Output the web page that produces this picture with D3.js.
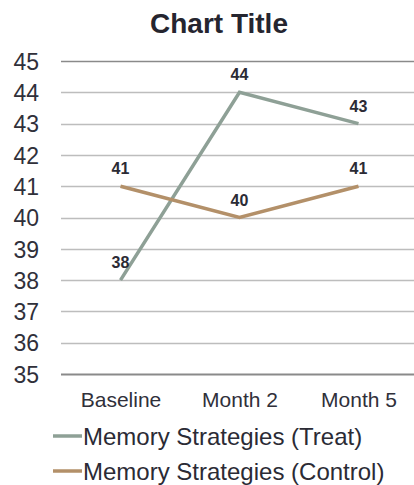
<!DOCTYPE html>
<html>
<head>
<meta charset="utf-8">
<script src="https://cdn.jsdelivr.net/npm/d3@7"></script>
<style>
  html, body { margin: 0; padding: 0; background: #fff; }
  svg { display: block; font-family: "Liberation Sans", Arial, sans-serif; }
</style>
</head>
<body>
<svg id="chart" width="414" height="485"></svg>
<script>
// Survey timepoints and mean scores per group
const categories = ["Baseline", "Month 2", "Month 5"];
const treatValues = [38, 44, 43];
const controlValues = [41, 40, 41];
const seriesNames = ["Memory Strategies (Treat)", "Memory Strategies (Control)"];
const yTicks = [35, 36, 37, 38, 39, 40, 41, 42, 43, 44, 45];

const series = [
  { name: seriesNames[0], values: treatValues, color: "#8ea096" },
  { name: seriesNames[1], values: controlValues, color: "#b39069" }
];

const svg = d3.select("#chart");
const plotLeft = 61, plotRight = 418, plotTop = 61, plotBottom = 374;

const x = d3.scalePoint().domain(categories).range([plotLeft, plotRight]).padding(0.5);
const y = d3.scaleLinear().domain([35, 45]).range([plotBottom, plotTop]);

// Title
svg.append("text")
  .attr("x", 219).attr("y", 33)
  .attr("text-anchor", "middle")
  .attr("font-size", 28).attr("font-weight", "bold")
  .attr("fill", "#25252f")
  .text("Chart Title");

// Horizontal gridlines
svg.append("g")
  .selectAll("line")
  .data(yTicks)
  .join("line")
  .attr("x1", plotLeft).attr("x2", 414)
  .attr("y1", d => Math.round(y(d)) + 0.5).attr("y2", d => Math.round(y(d)) + 0.5)
  .attr("stroke", d => (d === 35 || d === 45) ? "#8a8a8a" : "#bdbdbd")
  .attr("stroke-width", d => d === 35 ? 2 : 1.5);

// Y axis labels
const yAxis = d3.axisLeft(y).tickValues(yTicks).tickSize(0).tickPadding(0);
const gy = svg.append("g").attr("transform", `translate(39,0)`).call(yAxis);
gy.select(".domain").remove();
gy.selectAll("text")
  .attr("font-size", 23).attr("fill", "#30303a")
  .attr("dy", "0.36em")
  .attr("font-family", "Liberation Sans, Arial, sans-serif");

// X axis labels
const xAxis = d3.axisBottom(x).tickSize(0).tickPadding(0);
const gx = svg.append("g").attr("transform", `translate(0,${plotBottom})`).call(xAxis);
gx.select(".domain").remove();
gx.selectAll("text")
  .attr("y", 32.5).attr("dy", 0)
  .attr("font-size", 21).attr("fill", "#30303a")
  .attr("font-family", "Liberation Sans, Arial, sans-serif");

// Series lines
const line = d3.line()
  .x((d, i) => x(categories[i]))
  .y(d => y(d));

svg.append("g")
  .selectAll("path")
  .data(series)
  .join("path")
  .attr("d", d => line(d.values))
  .attr("fill", "none")
  .attr("stroke", d => d.color)
  .attr("stroke-width", 3.5)
  .attr("stroke-linejoin", "miter");

// Data labels above each point
series.forEach(s => {
  svg.append("g")
    .selectAll("text")
    .data(s.values)
    .join("text")
    .attr("x", (d, i) => x(categories[i]))
    .attr("y", d => y(d) - 12)
    .attr("text-anchor", "middle")
    .attr("font-size", 16).attr("font-weight", "bold")
    .attr("fill", "#2b2b35")
    .text(d => d);
});

// Legend
const legend = svg.append("g")
  .selectAll("g")
  .data(series)
  .join("g")
  .attr("transform", (d, i) => `translate(53,${436 + i * 35})`);
legend.append("line")
  .attr("x1", 0).attr("x2", 29)
  .attr("stroke", d => d.color)
  .attr("stroke-width", 3.5);
legend.append("text")
  .attr("x", 30).attr("y", 8.5)
  .attr("font-size", 24).attr("fill", "#2b2b35")
  .text(d => d.name);
</script>
</body>
</html>
